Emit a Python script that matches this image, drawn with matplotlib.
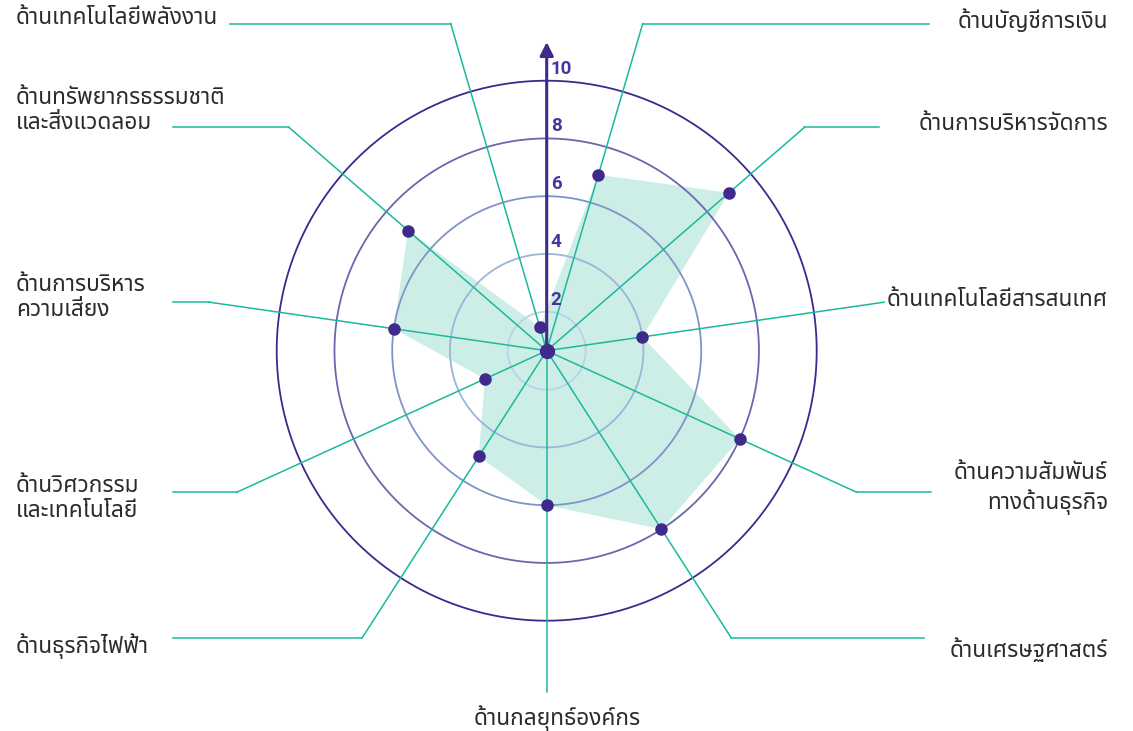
import numpy as np
import matplotlib
matplotlib.use("Agg")
import matplotlib.pyplot as plt

plt.rcParams['font.family'] = ['Noto Sans Thai', 'Noto Sans', 'DejaVu Sans']

# categories clockwise, starting just right of the value axis
categories = ['ด้านบัญชีการเงิน', 'ด้านการบริหารจัดการ', 'ด้านเทคโนโลยีสารสนเทศ',
              'ด้านความสัมพันธ์\nทางด้านธุรกิจ', 'ด้านเศรษฐศาสตร์', 'ด้านกลยุทธ์องค์กร',
              'ด้านธุรกิจไฟฟ้า', 'ด้านวิศวกรรม\nและเทคโนโลยี', 'ด้านการบริหาร\nความเสี่ยง',
              'ด้านทรัพยากรธรรมชาติ\nและสิ่งแวดลอม', 'ด้านเทคโนโลยีพลังงาน']
scores = [7, 9, 4, 8, 8, 6, 5, 3, 6, 7, 1.5]
rings = [2, 4, 6, 8, 10]
ring_labels = ['2', '4', '6', '8', '10']

# layout (image pixels)
W, H = 1133, 731
cx, cy, R = 546.7, 350.7, 270.0
rmin, rmax = 0.65, 10
line_end_x = [929, 879, None, 931, 924, None, 173, 173, 173, 173, 230]
label_xy = [(1108, 21, 'right'), (1108, 125, 'right'), (1108, 301, 'right'),
            (1108, 489, 'right'), (1108, 650, 'right'), (557, 718, 'center'),
            (16, 646, 'left'), (16, 499, 'left'), (16, 298, 'left'),
            (16, 111, 'left'), (16, 19, 'left')]

green = '#1bb99d'
purple = '#3f2a8c'
ring_colors = ['#b8d3e6', '#9ab6d6', '#7f94c6', '#6a67ae', '#3b2a8e']

fig = plt.figure(figsize=(W / 100, H / 100), dpi=100)
ov = fig.add_axes([0, 0, 1, 1])
ov.set_xlim(0, W)
ov.set_ylim(H, 0)
ov.axis('off')
ov.set_zorder(0)

ax = fig.add_axes([(cx - R) / W, (H - cy - R) / H, 2 * R / W, 2 * R / H], projection='polar')
ax.set_zorder(1)
ax.set_facecolor('none')
ax.set_theta_zero_location('N')
ax.set_theta_direction(-1)
ax.set_ylim(rmin, rmax)
ax.set_xticks([])
ax.set_yticks([])
ax.grid(False)
ax.spines['polar'].set_visible(False)

n = len(categories)
theta = 2 * np.pi / n * (np.arange(n) + 0.5)

# fill
t_closed = np.append(theta, theta[0])
s_closed = np.append(scores, scores[0])
ax.fill(t_closed, s_closed, color='#cdeee7', lw=0, zorder=1)

# rings
tt = np.linspace(0, 2 * np.pi, 400)
for v, c in zip(rings, ring_colors):
    ax.plot(tt, np.full_like(tt, v), color=c, lw=1.3, zorder=2, clip_on=False)

# radial leader lines
r_lead = rmin + 341 * (rmax - rmin) / R
for i in range(n):
    ax.plot([theta[i], theta[i]], [rmin, r_lead], color=green, lw=1.1, zorder=3, clip_on=False)

fig.canvas.draw()
inv = ov.transData.inverted()
for i in range(n):
    ex, ey = inv.transform(ax.transData.transform((theta[i], r_lead)))
    if line_end_x[i] is not None:
        ov.plot([ex, line_end_x[i]], [ey, ey], color=green, lw=1.1)
    x, y, ha = label_xy[i]
    ov.text(x, y, categories[i], ha=ha, va='center', fontsize=16.3, color='#2b2b2b',
            multialignment=ha, linespacing=1.25)

# value axis with arrow
r_tip = rmin + 308.7 * (rmax - rmin) / R
ax.annotate('', xy=(0, r_tip), xytext=(0, rmin), annotation_clip=False,
            arrowprops=dict(arrowstyle='-|>', color=purple, lw=2.2, mutation_scale=20,
                            shrinkA=0, shrinkB=0), zorder=5)
for v, lab in zip(rings, ring_labels):
    ax.annotate(lab, xy=(0, v), xytext=(4, 3), textcoords='offset pixels',
                ha='left', va='bottom', fontsize=13.5, color='#46359a', fontweight='bold',
                family=['Roboto', 'DejaVu Sans'], zorder=6)

# points
ax.plot(theta, scores, 'o', color=purple, ms=8, zorder=7, clip_on=False)
ax.plot([0], [rmin], 'o', color=purple, ms=10, zorder=7, clip_on=False)

fig.savefig('out.png', dpi=100)
